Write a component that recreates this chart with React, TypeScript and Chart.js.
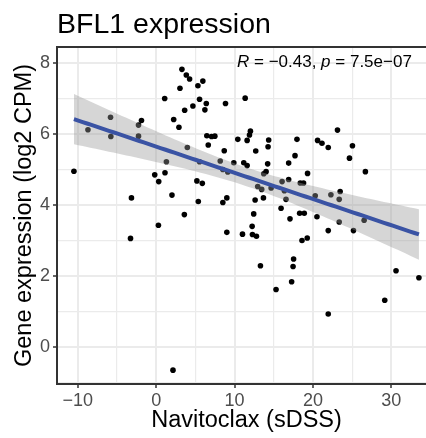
import React, { useEffect, useRef } from 'react';
import { Chart, registerables } from 'chart.js';
Chart.register(...registerables);

const navitoclax = [
  3.28, 3.84, 4.26, 3.03, 5.32, 5.95, 1.08, 5.53, 6.39, 8.84,
  4.68, 3.63, 6.21, -5.83, -1.88, -2.26, 2.23, 2.90, -8.71, -5.79,
  -2.26, 6.46, 7.06, 7.48, 6.64, 3.97, 8.68, 1.30, 5.53, 8.17,
  8.50, -10.50, -0.19, 1.12, 0.32, 5.19, 5.88, 2.01, -3.16, 5.37,
  8.50, 9.01, 11.35, 23.13, 12.02, 11.90, 10.41, 11.60, 14.35, 17.96,
  20.59, 21.15, 21.95, 25.04, 14.27, 12.70, 17.71, 24.66, 9.90, 11.17,
  11.60, 14.22, 16.90, 14.02, 13.72, 19.31, 26.69, 9.13, 16.06, 16.90,
  18.38, 18.80, 12.95, 13.46, 14.66, 16.35, 20.29, 22.29, 23.47, 23.35,
  12.62, 13.68, 16.56, 15.93, 3.59, 0.28, -3.28, 9.01, 2.14, 12.44,
  17.07, 18.30, 18.89, 20.51, 23.35, 26.53, 11.01, 12.24, 12.28, 12.79,
  21.95, 25.17, 18.60, 19.27, 13.30, 17.53, 17.46, 17.28, 15.29, 21.95,
  30.60, 29.16, 33.52,
];
const bfl1 = [
  7.81, 7.65, 7.54, 7.28, 7.35, 7.48, 6.99, 6.97, 6.85, 6.85,
  6.78, 6.66, 6.67, 6.46, 6.37, 6.24, 6.40, 6.18, 6.11, 5.92,
  5.93, 5.94, 5.92, 5.93, 5.68, 5.61, 5.52, 5.21, 5.21, 5.23,
  4.99, 4.94, 4.84, 4.90, 4.65, 4.67, 4.60, 4.27, 4.19, 4.09,
  4.06, 4.19, 7.00, 6.10, 6.07, 5.96, 5.84, 5.81, 5.82, 5.84,
  5.81, 5.73, 5.61, 5.66, 5.63, 5.51, 5.38, 5.31, 5.18, 5.18,
  5.10, 5.15, 5.17, 4.93, 4.87, 4.88, 4.93, 4.92, 4.65, 4.71,
  4.61, 4.61, 4.51, 4.43, 4.47, 4.39, 4.25, 4.28, 4.37, 4.15,
  4.13, 4.19, 4.15, 3.90, 3.72, 3.42, 3.05, 3.22, -0.66, 3.74,
  3.60, 3.76, 3.76, 3.66, 3.51, 3.56, 3.17, 3.39, 3.16, 3.11,
  3.27, 3.27, 2.99, 3.06, 2.28, 2.47, 2.26, 1.83, 1.61, 0.92,
  2.14, 1.31, 1.94,
];

const xMajor = [-10, 0, 10, 20, 30];
const xMinor = [-5, 5, 15, 25];
const yMajor = [0, 2, 4, 6, 8];
const yMinor = [-1, 1, 3, 5, 7];
const xLimits = [-12.66, 35.7];
const yLimits = [-1.05, 8.44];

const titleText = 'BFL1 expression';
const xTitleText = 'Navitoclax (sDSS)';
const yTitleText = 'Gene expression (log2 CPM)';
const corR = '\u22120.43';
const corP = '7.5e\u221207';

const FONT = "'Liberation Sans', Arial, Helvetica, sans-serif";

const fmt = (v: number) => (v < 0 ? '\u2212' + Math.abs(v) : String(v));

function fitBand() {
  const n = navitoclax.length;
  const mx = navitoclax.reduce((a, b) => a + b, 0) / n;
  const my = bfl1.reduce((a, b) => a + b, 0) / n;
  let sxx = 0, sxy = 0;
  for (let i = 0; i < n; i++) {
    sxx += (navitoclax[i] - mx) ** 2;
    sxy += (navitoclax[i] - mx) * (bfl1[i] - my);
  }
  const b = sxy / sxx;
  const a = my - b * mx;
  let sse = 0;
  for (let i = 0; i < n; i++) sse += (bfl1[i] - a - b * navitoclax[i]) ** 2;
  const s = Math.sqrt(sse / (n - 2));
  const tq = 1.981;
  const lo = Math.min(...navitoclax);
  const hi = Math.max(...navitoclax);
  const fit: { x: number; y: number }[] = [];
  const up: { x: number; y: number }[] = [];
  const dn: { x: number; y: number }[] = [];
  const steps = 80;
  for (let i = 0; i < steps; i++) {
    const x = lo + ((hi - lo) * i) / (steps - 1);
    const yhat = a + b * x;
    const se = s * Math.sqrt(1 / n + (x - mx) ** 2 / sxx);
    fit.push({ x, y: yhat });
    up.push({ x, y: yhat + tq * se });
    dn.push({ x, y: yhat - tq * se });
  }
  return { fit, up, dn };
}

const textPlugin = {
  id: 'ggText',
  afterDraw(chart: any) {
    const { ctx, chartArea } = chart;
    ctx.save();
    // top panel border
    ctx.strokeStyle = '#333333';
    ctx.lineWidth = 2;
    ctx.beginPath();
    ctx.moveTo(chartArea.left - 1, chartArea.top);
    ctx.lineTo(chartArea.right, chartArea.top);
    ctx.stroke();
    // title
    ctx.fillStyle = '#000';
    ctx.textBaseline = 'alphabetic';
    ctx.textAlign = 'left';
    ctx.font = `28.5px ${FONT}`;
    ctx.fillText(titleText, 57, 33);
    // correlation label
    const parts: [string, boolean][] = [
      ['R', true],
      [' = ' + corR + ', ', false],
      ['p', true],
      [' = ' + corP, false],
    ];
    let x = 237;
    const y = 67;
    for (const [t, it] of parts) {
      ctx.font = `${it ? 'italic ' : ''}17px ${FONT}`;
      ctx.fillText(t, x, y);
      x += ctx.measureText(t).width;
    }
    ctx.restore();
  },
};

export default function App() {
  const ref = useRef<HTMLCanvasElement | null>(null);
  useEffect(() => {
    if (!ref.current) return;
    const { fit, up, dn } = fitBand();
    const points = navitoclax.map((x, i) => ({ x, y: bfl1[i] }));
    const chart = new Chart(ref.current, {
      type: 'scatter',
      data: {
        datasets: [
          {
            type: 'scatter',
            data: points,
            pointRadius: 2.8,
            pointBackgroundColor: '#000',
            pointBorderWidth: 0,
            order: 2,
          } as any,
          {
            type: 'line',
            data: dn,
            showLine: true,
            borderWidth: 0,
            borderColor: 'rgba(0,0,0,0)',
            pointRadius: 0,
            fill: false,
            order: 1,
          } as any,
          {
            type: 'line',
            data: up,
            showLine: true,
            borderWidth: 0,
            borderColor: 'rgba(0,0,0,0)',
            backgroundColor: 'rgba(153,153,153,0.4)',
            pointRadius: 0,
            fill: '-1',
            order: 1,
          } as any,
          {
            type: 'line',
            data: fit,
            showLine: true,
            borderWidth: 4,
            borderColor: '#3A53A4',
            pointRadius: 0,
            fill: false,
            order: 0,
          } as any,
        ],
      },
      options: {
        animation: false,
        responsive: false,
        events: [],
        layout: { padding: { top: 47, left: 0, right: 3, bottom: 0 } },
        plugins: {
          legend: { display: false },
          tooltip: { enabled: false },
          filler: { drawTime: 'beforeDatasetDraw' },
        } as any,
        scales: {
          x: {
            type: 'linear',
            min: xLimits[0],
            max: xLimits[1],
            afterBuildTicks: (s: any) => {
              s.ticks = [...xMajor, ...xMinor].sort((a, b) => a - b).map((v) => ({ value: v }));
            },
            afterFit: (s: any) => {
              s.height = 54;
            },
            ticks: {
              callback: (v: any) => (xMajor.includes(Number(v)) ? fmt(Number(v)) : ''),
              color: '#4D4D4D',
              font: { size: 18, family: FONT },
              padding: 2,
              maxRotation: 0,
              autoSkip: false,
            },
            grid: {
              color: '#EBEBEB',
              lineWidth: (c: any) => (xMajor.includes(c.tick?.value) ? 2 : 1.2),
              tickColor: (c: any) => (xMajor.includes(c.tick?.value) ? '#333333' : 'rgba(0,0,0,0)'),
              tickLength: 4,
              tickWidth: 1.5,
            },
            border: { display: true, color: '#333333', width: 2 },
            title: {
              display: true,
              text: xTitleText,
              color: '#000',
              font: { size: 23.5, family: FONT },
              padding: { top: 0, bottom: 3 },
            },
          },
          y: {
            type: 'linear',
            min: yLimits[0],
            max: yLimits[1],
            afterBuildTicks: (s: any) => {
              s.ticks = [...yMajor, ...yMinor].sort((a, b) => a - b).map((v) => ({ value: v }));
            },
            afterFit: (s: any) => {
              s.width = 57;
            },
            ticks: {
              callback: (v: any) => (yMajor.includes(Number(v)) ? fmt(Number(v)) : ''),
              color: '#4D4D4D',
              font: { size: 18, family: FONT },
              padding: 3,
              autoSkip: false,
            },
            grid: {
              color: '#EBEBEB',
              lineWidth: (c: any) => (yMajor.includes(c.tick?.value) ? 2 : 1.2),
              tickColor: (c: any) => (yMajor.includes(c.tick?.value) ? '#333333' : 'rgba(0,0,0,0)'),
              tickLength: 4,
              tickWidth: 1.5,
            },
            border: { display: true, color: '#333333', width: 2 },
            title: {
              display: true,
              text: yTitleText,
              color: '#000',
              font: { size: 23.5, family: FONT },
              padding: { top: 10, bottom: 0 },
            },
          },
        },
      },
      plugins: [textPlugin],
    });
    return () => chart.destroy();
  }, []);
  return (
    <div
      style={{
        position: 'fixed',
        left: 0,
        top: 0,
        width: 426,
        height: 438,
        overflow: 'hidden',
        background: '#fff',
      }}
    >
      <canvas ref={ref} width={440} height={438} style={{ display: 'block' }} />
    </div>
  );
}
